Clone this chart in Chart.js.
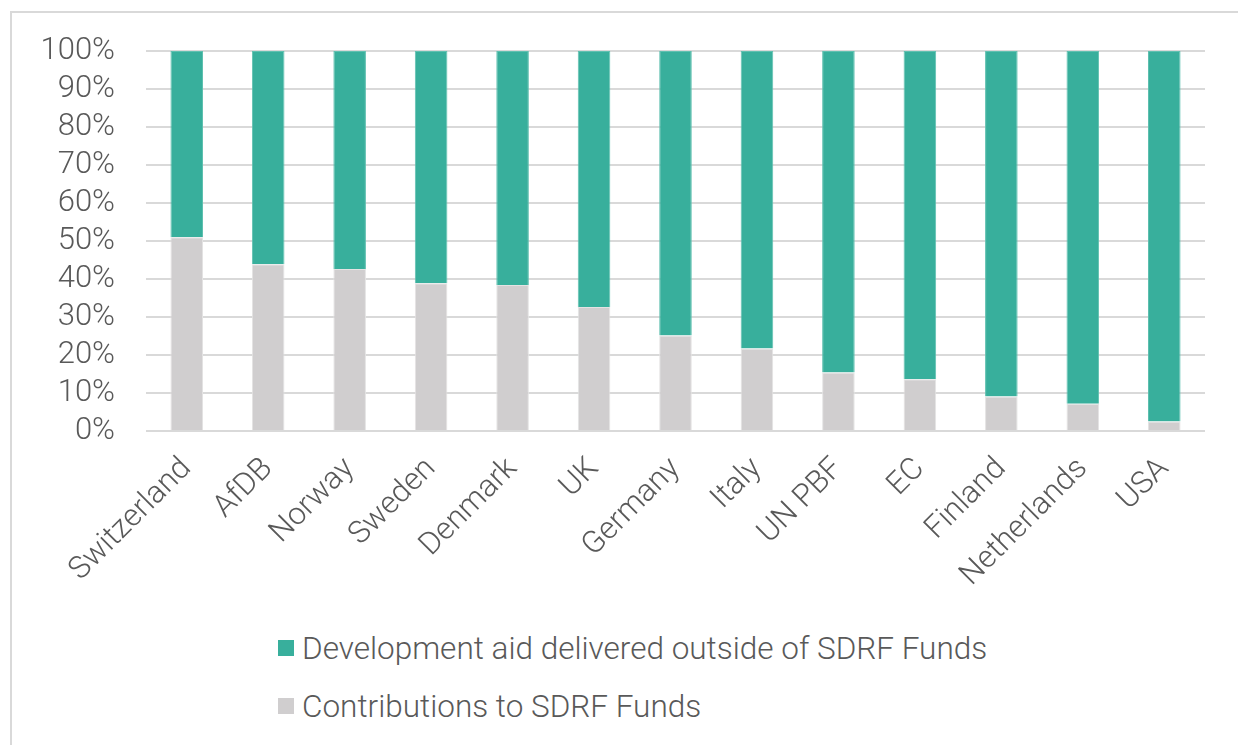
<!DOCTYPE html>
<html>
<head>
<meta charset="utf-8">
<script src="https://cdn.jsdelivr.net/npm/chart.js@4.4.1/dist/chart.umd.min.js"></script>
<style>
  html, body { margin: 0; padding: 0; background: #fff; }
  body { width: 1238px; height: 745px; position: relative; overflow: hidden; font-family: Roboto, "Liberation Sans", sans-serif; }
  .panel { position: absolute; left: 10px; top: 11px; width: 1240px; height: 760px; border-left: 2px solid #d9d9d9; border-top: 2px solid #d9d9d9; }
  .chart-wrap { position: absolute; left: 0; top: 0; width: 1238px; height: 600px; }
  .legend { position: absolute; left: 278px; top: 627px; color: #595959; font-size: 31.5px; font-weight: 300; }
  .legend .item { display: flex; align-items: center; height: 42px; margin-bottom: 16px; }
  .legend .box { width: 16px; height: 16px; margin-right: 8px; }
</style>
</head>
<body>
<div class="panel"></div>
<div class="chart-wrap"><canvas id="chart" width="1238" height="600"></canvas></div>
<div class="legend">
  <div class="item"><span class="box" style="background:#38af9c"></span><span>Development aid delivered outside of SDRF Funds</span></div>
  <div class="item"><span class="box" style="background:#d0cecf"></span><span>Contributions to SDRF Funds</span></div>
</div>
<script>
const categories = ['Switzerland', 'AfDB', 'Norway', 'Sweden', 'Denmark', 'UK', 'Germany', 'Italy', 'UN PBF', 'EC', 'Finland', 'Netherlands', 'USA'];
const contributions = [51.0, 43.9, 42.6, 38.9, 38.4, 32.6, 25.1, 21.7, 15.4, 13.6, 9.1, 7.2, 2.5];
const outsideAid = [49.0, 56.1, 57.4, 61.1, 61.6, 67.4, 74.9, 78.3, 84.6, 86.4, 90.9, 92.8, 97.5];
const yTicks = [0, 10, 20, 30, 40, 50, 60, 70, 80, 90, 100];

const textColor = '#595959';
const tickFont = { family: 'Roboto, "Liberation Sans", sans-serif', size: 31, weight: '300', lineHeight: 1 };

new Chart(document.getElementById('chart'), {
  type: 'bar',
  data: {
    labels: categories,
    datasets: [
      {
        label: 'Contributions to SDRF Funds',
        data: contributions,
        backgroundColor: '#d0cecf',
        borderColor: '#e4e3e3',
        borderWidth: 1,
        barPercentage: 0.4,
        categoryPercentage: 1,
      },
      {
        label: 'Development aid delivered outside of SDRF Funds',
        data: outsideAid,
        backgroundColor: '#38af9c',
        borderColor: '#5fc0b0',
        borderWidth: 1,
        barPercentage: 0.4,
        categoryPercentage: 1,
      },
    ],
  },
  options: {
    responsive: false,
    animation: false,
    layout: { padding: { top: 51, right: 33, left: 0, bottom: 0 } },
    plugins: { legend: { display: false }, tooltip: { enabled: false } },
    scales: {
      x: {
        stacked: true,
        grid: { display: false, drawTicks: false },
        border: { display: false },
        ticks: { color: textColor, font: tickFont, minRotation: 45, maxRotation: 45, padding: 22, autoSkip: false },
        afterFit: s => { s.height = 169; },
      },
      y: {
        stacked: true,
        min: 0,
        max: 100,
        afterBuildTicks: s => { s.ticks = yTicks.map(v => ({ value: v })); },
        grid: { color: '#d9d9d9', lineWidth: 2, drawTicks: false },
        border: { display: false },
        ticks: { color: textColor, font: tickFont, padding: 31, autoSkip: false, callback: v => v + '%' },
        afterFit: s => { s.width = 146; },
      },
    },
  },
});
</script>
</body>
</html>
